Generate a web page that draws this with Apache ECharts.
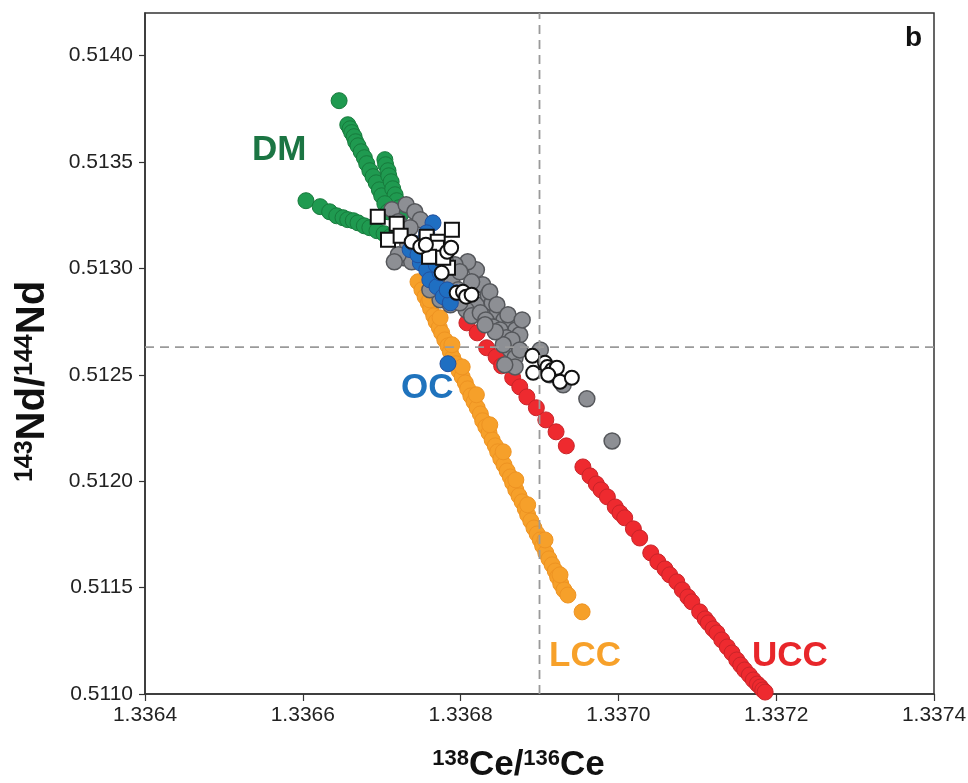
<!DOCTYPE html>
<html>
<head>
<meta charset="utf-8">
<title>Ce-Nd</title>
<script src="https://cdn.jsdelivr.net/npm/echarts@6/dist/echarts.min.js"></script>
<style>
  html, body { margin: 0; padding: 0; background: #fff; }
  #main { width: 968px; height: 783px; }
</style>
</head>
<body>
<div id="main"></div>
<script>
// axis ticks
const xTicks = [1.3364, 1.3366, 1.3368, 1.3370, 1.3372, 1.3374];
const yTicks = [0.5110, 0.5115, 0.5120, 0.5125, 0.5130, 0.5135, 0.5140];
// reference lines (CHUR)
const ceRef = 1.33690;
const ndRef = 0.512630;

// [138Ce/136Ce, 143Nd/144Nd]
const dmPoints = [
  [1.336604, 0.513318], [1.336622, 0.51329], [1.336634, 0.513266], [1.336643, 0.513247],
  [1.336651, 0.513238], [1.336657, 0.513229], [1.336664, 0.513224], [1.33667, 0.513214],
  [1.336678, 0.5132], [1.336685, 0.513191], [1.336694, 0.513177], [1.336703, 0.513163],
  [1.336711, 0.513149],
  [1.336646, 0.513788], [1.336657, 0.513675], [1.33666, 0.513656], [1.336662, 0.513638],
  [1.336665, 0.513619], [1.336667, 0.513595], [1.33667, 0.513576], [1.336674, 0.513548],
  [1.336678, 0.51352], [1.336681, 0.513492], [1.336685, 0.513459], [1.336689, 0.513431],
  [1.336693, 0.513402], [1.336697, 0.513369], [1.3367, 0.513341],
  [1.336704, 0.513511], [1.336705, 0.513487], [1.336708, 0.513459], [1.336709, 0.513435],
  [1.336712, 0.513407], [1.336714, 0.513374], [1.336717, 0.513346], [1.336719, 0.513318],
  [1.336722, 0.513285], [1.336724, 0.513252], [1.336704, 0.513304], [1.336708, 0.513266]
];
const samplePoints = [
  [1.336713, 0.513276], [1.336721, 0.513219], [1.336731, 0.513299], [1.336742, 0.513266],
  [1.336749, 0.513229], [1.336726, 0.513158], [1.336733, 0.513111], [1.336728, 0.51305],
  [1.336738, 0.513031], [1.336746, 0.513088], [1.336755, 0.51305], [1.336764, 0.513031],
  [1.336771, 0.512993], [1.33678, 0.51297], [1.336789, 0.512937], [1.336797, 0.512899],
  [1.336804, 0.512871], [1.336812, 0.512852], [1.33682, 0.512829], [1.336828, 0.512923],
  [1.336835, 0.512876], [1.33684, 0.512838], [1.336847, 0.512796], [1.336855, 0.512758],
  [1.336863, 0.512735], [1.33687, 0.512711], [1.336875, 0.512688], [1.336807, 0.512805],
  [1.336814, 0.512777], [1.336825, 0.512791], [1.336832, 0.512758], [1.336841, 0.512725],
  [1.33685, 0.512711], [1.336858, 0.512674], [1.336863, 0.512617], [1.336869, 0.51258],
  [1.336869, 0.512537], [1.336774, 0.512852], [1.336787, 0.512829], [1.336799, 0.512838],
  [1.33682, 0.512993], [1.336809, 0.513031], [1.336793, 0.513017], [1.336901, 0.512617],
  [1.336913, 0.5125], [1.33693, 0.512453], [1.33696, 0.512387], [1.336992, 0.512189],
  [1.336761, 0.512899], [1.336736, 0.513191], [1.336755, 0.513134], [1.336769, 0.513097],
  [1.336781, 0.513031], [1.336799, 0.512984], [1.336814, 0.512937], [1.336837, 0.51289],
  [1.336846, 0.512829], [1.33686, 0.512782], [1.336865, 0.512664], [1.336854, 0.512641],
  [1.336844, 0.512702], [1.336831, 0.512735], [1.336721, 0.513064], [1.336716, 0.513031],
  [1.336875, 0.512617], [1.336878, 0.512758], [1.336856, 0.512547]
];
const ocPoints = [
  [1.336765, 0.513214], [1.336736, 0.513088], [1.336749, 0.513026], [1.336757, 0.512993],
  [1.336761, 0.512946], [1.33677, 0.512914], [1.336778, 0.512867], [1.336787, 0.512838],
  [1.336795, 0.512885], [1.336774, 0.512979], [1.33674, 0.51312], [1.336761, 0.513055],
  [1.336757, 0.513167], [1.336783, 0.512899], [1.336746, 0.513064], [1.336754, 0.513111],
  [1.336769, 0.513017], [1.336784, 0.512552]
];
const lccPoints = [
  [1.336746, 0.512937], [1.336751, 0.512899], [1.336755, 0.512867], [1.336759, 0.512838],
  [1.336762, 0.51281], [1.336766, 0.512777], [1.336769, 0.512749], [1.336773, 0.512721],
  [1.336776, 0.512697], [1.33678, 0.512664], [1.336784, 0.512636], [1.336787, 0.512608],
  [1.33679, 0.51258], [1.336794, 0.512552], [1.336798, 0.512519], [1.336802, 0.51249],
  [1.336806, 0.512462], [1.336809, 0.512434], [1.336813, 0.512401], [1.336817, 0.512373],
  [1.336821, 0.512345], [1.336825, 0.512316], [1.336828, 0.512284], [1.336832, 0.512255],
  [1.336836, 0.512227], [1.33684, 0.512194], [1.336844, 0.512166], [1.336847, 0.512138],
  [1.336851, 0.512105], [1.336855, 0.512077], [1.336859, 0.512048], [1.336863, 0.51202],
  [1.336866, 0.511992], [1.33687, 0.511959], [1.336874, 0.511931], [1.336878, 0.511903],
  [1.336882, 0.51187], [1.336885, 0.511842], [1.336889, 0.511813], [1.336893, 0.51178],
  [1.336897, 0.511752], [1.336901, 0.511724], [1.336904, 0.511696], [1.336908, 0.511663],
  [1.336912, 0.511635], [1.336916, 0.511607], [1.33692, 0.511578], [1.336923, 0.51155],
  [1.336927, 0.511517], [1.336931, 0.511489], [1.336936, 0.511465], [1.336954, 0.511386],
  [1.336761, 0.512852], [1.336774, 0.512768], [1.336789, 0.512641], [1.336802, 0.512537],
  [1.33682, 0.512406], [1.336837, 0.512265], [1.336854, 0.512138], [1.33687, 0.512006],
  [1.336885, 0.511889], [1.336907, 0.511724], [1.336926, 0.51156]
];
const uccPoints = [
  [1.336808, 0.512744], [1.336821, 0.512697], [1.336833, 0.512627], [1.336845, 0.512584],
  [1.336852, 0.512542], [1.336866, 0.512486], [1.336875, 0.512443], [1.336884, 0.512396],
  [1.336896, 0.512345], [1.336908, 0.512288], [1.336921, 0.512232], [1.336934, 0.512166],
  [1.336955, 0.512067], [1.336964, 0.512025], [1.336972, 0.511987], [1.336978, 0.511959],
  [1.336986, 0.511926], [1.336996, 0.511879], [1.337002, 0.511851], [1.337008, 0.511828],
  [1.337019, 0.511776], [1.337027, 0.511733], [1.337041, 0.511663], [1.33705, 0.511621],
  [1.337059, 0.511588], [1.337065, 0.51156], [1.337074, 0.511527], [1.337081, 0.511489],
  [1.337088, 0.511456], [1.337093, 0.511433], [1.337103, 0.511386], [1.33711, 0.511353],
  [1.337114, 0.511334], [1.33712, 0.511306], [1.337125, 0.511287], [1.337131, 0.511254],
  [1.337138, 0.511221], [1.337144, 0.511193], [1.33715, 0.51116], [1.337155, 0.511136],
  [1.33716, 0.511113], [1.337166, 0.511089], [1.337171, 0.511066], [1.337176, 0.511047],
  [1.33718, 0.511033], [1.337183, 0.511019], [1.337186, 0.511009]
];
const squarePoints = [
  [1.336695, 0.513243], [1.336719, 0.51321], [1.336708, 0.513134], [1.336724, 0.513153],
  [1.336757, 0.513149], [1.336771, 0.513125], [1.33677, 0.513097], [1.33676, 0.513055],
  [1.336789, 0.513182], [1.336784, 0.513003], [1.336778, 0.51305]
];
const circlePoints = [
  [1.336738, 0.513125], [1.336749, 0.513102], [1.336756, 0.513111], [1.336783, 0.513078],
  [1.336788, 0.513097], [1.336776, 0.512979], [1.336795, 0.512885], [1.336803, 0.51289],
  [1.336807, 0.512867], [1.336814, 0.512876], [1.336891, 0.512589], [1.336892, 0.512509],
  [1.336907, 0.512556], [1.33691, 0.512537], [1.336916, 0.512523], [1.336922, 0.512533],
  [1.336911, 0.5125], [1.336926, 0.512467], [1.336941, 0.512486]
];

const font = 'Liberation Sans, Arial, sans-serif';

function dots(name, data, fill, stroke, size, symbol, bw) {
  return {
    name: name,
    type: 'scatter',
    data: data,
    symbol: symbol || 'circle',
    symbolSize: size,
    itemStyle: { color: fill, borderColor: stroke, borderWidth: bw || 1, opacity: 1 },
    emphasis: { disabled: true },
    animation: false
  };
}

function dashed(data) {
  return {
    type: 'line',
    data: data,
    symbol: 'none',
    silent: true,
    lineStyle: { color: '#9a9a9a', type: [9, 6], width: 1.8 },
    animation: false
  };
}

const chart = echarts.init(document.getElementById('main'));
const option = {
  backgroundColor: '#fff',
  animation: false,
  grid: {
    left: 145, right: 34, top: 13, bottom: 89,
    outerBoundsMode: 'none',
    show: true, borderColor: '#333', borderWidth: 1.5
  },
  xAxis: {
    type: 'value',
    min: 1.3364, max: 1.3374, interval: 0.0002,
    axisLine: { lineStyle: { color: '#333', width: 1.5 } },
    axisTick: { length: 7, lineStyle: { color: '#333', width: 1.2 } },
    splitLine: { show: false },
    axisLabel: {
      color: '#222', fontFamily: font, fontSize: 21, margin: 11,
      formatter: v => v.toFixed(4)
    },
    name: '{s|138}{m|Ce/}{s|136}{m|Ce}',
    nameLocation: 'middle',
    nameGap: 54,
    nameTextStyle: {
      padding: [0, 42, 0, 0],
      rich: {
        s: { fontFamily: font, fontWeight: 'bold', fontSize: 22, color: '#111', verticalAlign: 'top' },
        m: { fontFamily: font, fontWeight: 'bold', fontSize: 35, color: '#111' }
      }
    }
  },
  yAxis: {
    type: 'value',
    min: 0.5110, max: 0.5142, interval: 0.0005,
    axisLine: { lineStyle: { color: '#333', width: 1.5 } },
    axisTick: { length: 6, customValues: yTicks, lineStyle: { color: '#333', width: 1.2 } },
    splitLine: { show: false },
    axisLabel: {
      color: '#222', fontFamily: font, fontSize: 21, margin: 12,
      customValues: yTicks,
      formatter: v => v.toFixed(4)
    },
    name: '{s|143}{m|Nd/}{s|144}{m|Nd}',
    nameLocation: 'middle',
    nameRotate: 90,
    nameGap: 92,
    nameTextStyle: {
      padding: [0, 56, 0, 0],
      rich: {
        s: { fontFamily: font, fontWeight: 'bold', fontSize: 25, color: '#111', verticalAlign: 'top' },
        m: { fontFamily: font, fontWeight: 'bold', fontSize: 40, color: '#111' }
      }
    }
  },
  series: [
    dots('LCC', lccPoints, '#f6a02a', '#ee9322', 16),
    dots('UCC', uccPoints, '#ee2a2f', '#c92429', 16),
    dots('DM', dmPoints, '#1f9a50', '#177a3c', 16),
    dots('Samples', samplePoints, '#8d8f94', '#55575b', 16, 'circle', 1.5),
    dots('OC', ocPoints, '#1f6fc2', '#22509e', 16),
    dashed([[ceRef, 0.5110], [ceRef, 0.5142]]),
    dashed([[1.3364, ndRef], [1.3374, ndRef]]),
    dots('Squares', squarePoints, '#ffffff', '#111111', 14, 'rect', 2),
    dots('Circles', circlePoints, '#ffffff', '#111111', 14, 'circle', 2)
  ],
  graphic: [
    { type: 'text', left: 252, top: 133, style: { text: 'DM', font: 'bold 35px ' + font, fill: '#1b7543' } },
    { type: 'text', left: 401, top: 371, style: { text: 'OC', font: 'bold 35px ' + font, fill: '#1f73bd' } },
    { type: 'text', left: 549, top: 639, style: { text: 'LCC', font: 'bold 35px ' + font, fill: '#f7a12a' } },
    { type: 'text', left: 752, top: 639, style: { text: 'UCC', font: 'bold 35px ' + font, fill: '#e8262a' } },
    { type: 'text', left: 905, top: 24, style: { text: 'b', font: 'bold 28px ' + font, fill: '#111' } }
  ]
};
chart.setOption(option);
</script>
</body>
</html>
